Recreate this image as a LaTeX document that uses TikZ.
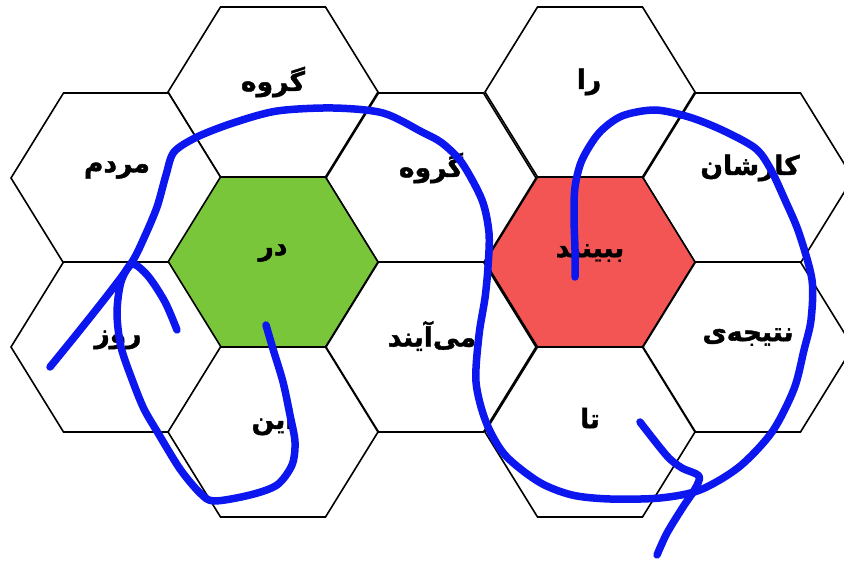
\documentclass[tikz,border=0pt]{standalone}
\usepackage{fontspec}
\newfontfamily\arabicfont[Script=Arabic, BoldFeatures={FakeBold=1.6}]{DejaVu Sans}
\TeXXeTstate=1
\definecolor{hexgreen}{RGB}{122,198,58}
\definecolor{hexred}{RGB}{243,84,84}
\definecolor{pen}{RGB}{12,22,238}
\begin{document}
\begin{tikzpicture}[x=1pt,y=-1pt,
  hexcell/.style={draw=black, line width=1.6pt, line join=miter},
  word/.style={font=\arabicfont\bfseries\fontsize{26.5}{29}\selectfont, inner sep=0pt, text=black},
  penstroke/.style={draw=pen, line width=7.5pt, line cap=round, line join=round}]
\useasboundingbox (0,0) rectangle (844,564);
\fill[white] (0,0) rectangle (844,564);
\begin{scope}
\clip (0,0) rectangle (844,564);
\foreach \cx/\cy/\col in {273/92/white, 590/92/white, 116/178/white, 431/178/white, 748/178/white,
  273/262/hexgreen, 590/262/hexred, 116/347/white, 431/347/white, 748/347/white, 273/432/white, 590/432/white}{
  \filldraw[hexcell, fill=\col] ({\cx-105},\cy) -- ({\cx-52.5},{\cy-85}) -- ({\cx+52.5},{\cy-85})
    -- ({\cx+105},\cy) -- ({\cx+52.5},{\cy+85}) -- ({\cx-52.5},{\cy+85}) -- cycle;
}
\end{scope}
% words
\node[word] (goruhA) at (273,82) {\beginR گروه\endR};
\node[word] (ra) at (589,82) {\beginR را\endR};
\node[word] (mardom) at (117,170) {\beginR مردم\endR};
\node[word] (goruhB) at (431,168) {\beginR گروه\endR};
\node[word] (karshan) at (750,168) {\beginR کارشان\endR};
\node[word] (dar) at (273,253) {\beginR در\endR};
\node[word] (bebinand) at (590,253) {\beginR ببینند\endR};
\node[word] (ruz) at (118,340) {\beginR روز\endR};
\node[word] (miayand) at (432,336) {\beginR می‌آیند\endR};
\node[word] (natije) at (748,337) {\beginR نتیجه‌ی\endR};
\node[word] (in) at (273,422) {\beginR این\endR};
\node[word] (ta) at (590,418) {\beginR تا\endR};
% hand-drawn pen strokes
\draw[penstroke] plot[smooth, tension=0.5] coordinates {
  (575,277) (575,250) (574,217) (575,187) (582,160) (599,133) (622,116) (655,110) (689,117)
  (722,130) (755,148) (770,168) (785,200) (799,233) (812,280) (811,320) (804,350) (794,389)
  (772,432) (739,467) (700,490) (660,498) (610,499) (572,495) (539,482) (505,455) (486,422)
  (476,382) (479,335) (485,298) (488,267) (489,233) (482,200) (462,163) (442,143) (422,132)
  (383,113) (333,108) (277,111) (233,123) (197,137) (174,152) (166,175) (157,207) (144,238)
  (132,262) (110,292) (80,330) (50,367)};
\draw[penstroke] plot[smooth, tension=0.5] coordinates {
  (177,330) (165,302) (148,276) (132,264) (121,282) (117,313) (121,347) (133,382) (144,409)
  (158,433) (180,469) (200,493) (214,501) (250,495) (277,485) (292,465) (295,442) (290,415)
  (283,382) (273,349) (266,325)};
\draw[penstroke] plot[smooth, tension=0.5] coordinates {
  (640,422) (667,456) (682,468) (699,476) (695,489) (683,507) (667,533) (657,555)};
\end{tikzpicture}
\end{document}
